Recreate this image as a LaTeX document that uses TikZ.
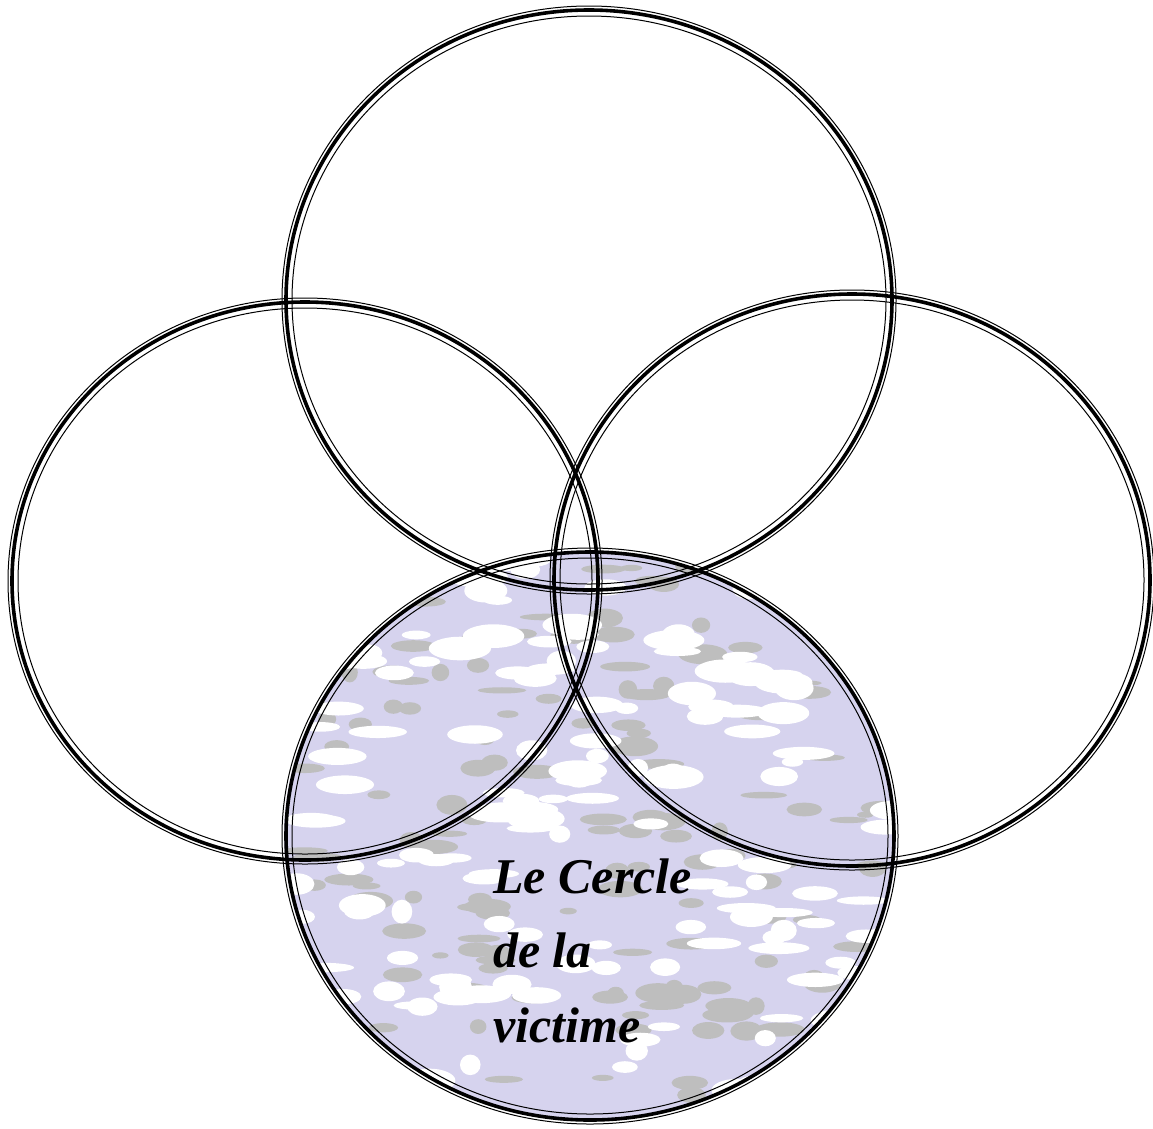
\documentclass[tikz,border=0pt]{standalone}
\usepackage{fontspec}
\setmainfont{Liberation Serif}
\definecolor{lav}{HTML}{D6D3EE}
\definecolor{patchgray}{HTML}{BEBEBE}
\tikzset{
  thickring/.style={draw=black, line width=3.6pt},
  thinring/.style={draw=black, line width=1pt},
  lbl/.style={anchor=base west, inner sep=0pt, font=\fontsize{50}{60}\selectfont\bfseries\itshape}
}
\newcommand{\ring}[4]{%
  \draw[thickring] (#1,#2) ellipse [x radius=#3, y radius=#4];
  \draw[thinring] (#1,#2) ellipse [x radius=#3+4, y radius=#4+4];
  \draw[thinring] (#1,#2) ellipse [x radius=#3-6, y radius=#4-6];
}
\begin{document}
\begin{tikzpicture}[x=1pt,y=-1pt]
\useasboundingbox[fill=white] (0,0) rectangle (1153,1128);
% textured fill of the victim circle
\begin{scope}
  \clip (590,836) ellipse [x radius=306, y radius=285];
  \fill[lav] (284,550) rectangle (897,1125);
  \pgfmathsetseed{11}
  \foreach \i in {1,...,170} {
    \pgfmathsetmacro{\px}{290+610*rnd}
    \pgfmathsetmacro{\py}{555+570*rnd}
    \pgfmathsetmacro{\rx}{8+18*rnd}
    \pgfmathsetmacro{\ry}{3+7*rnd}
    \fill[patchgray] (\px,\py) ellipse [x radius=\rx, y radius=\ry];
  }
  \foreach \i in {1,...,170} {
    \pgfmathsetmacro{\px}{290+610*rnd}
    \pgfmathsetmacro{\py}{555+570*rnd}
    \pgfmathsetmacro{\rx}{10+22*rnd}
    \pgfmathsetmacro{\ry}{4+8*rnd}
    \fill[white] (\px,\py) ellipse [x radius=\rx, y radius=\ry];
  }
\end{scope}
% rings
\ring{589}{300}{303}{290}
\ring{305}{581}{293}{279}
\ring{852}{580}{298}{286}
\ring{590}{836}{304}{284}
% text
\node[lbl] (t1) at (493,893) {Le Cercle};
\node[lbl] (t2) at (493,967) {de la};
\node[lbl] (t3) at (493,1042) {victime};
\end{tikzpicture}
\end{document}
